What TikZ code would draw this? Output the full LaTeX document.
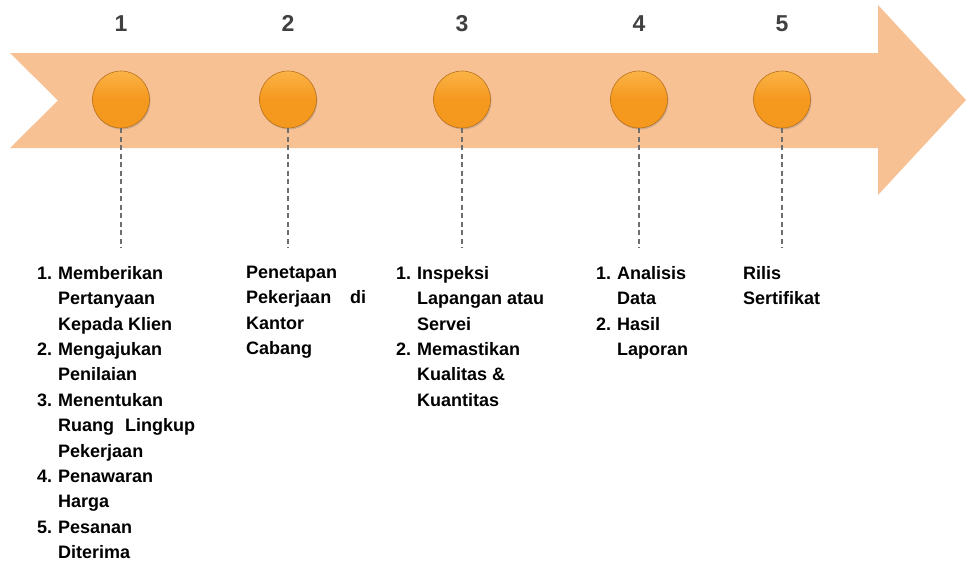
\documentclass[tikz,border=0pt]{standalone}
\usepackage{fontspec}
\setmainfont{Liberation Sans}
\usetikzlibrary{shadows}
\definecolor{band}{HTML}{F8C193}
\definecolor{ball}{HTML}{F5981E}
\definecolor{balltop}{HTML}{FBB446}
\definecolor{ballrim}{HTML}{B8701C}
\definecolor{numgray}{HTML}{404040}
\definecolor{dashgray}{HTML}{6E6E6E}
\tikzset{
  ballnode/.style={circle, minimum size=57pt, inner sep=0pt, draw=ballrim, line width=0.6pt,
    top color=balltop, bottom color=ball, middle color=ball,
    drop shadow={shadow xshift=1pt, shadow yshift=-1.5pt, opacity=0.35}},
  numlabel/.style={font=\fontsize{23}{25}\selectfont\bfseries, text=numgray, inner sep=0pt, anchor=base},
  stepline/.style={draw=dashgray, line width=1.1pt, dash pattern=on 5pt off 3.5pt},
  coltext/.style={anchor=north west, inner sep=0pt, align=left,
    font=\fontsize{18}{25.4}\selectfont\bfseries}
}
\newcommand{\nm}[1]{\makebox[21pt][l]{#1}}
\begin{document}
\begin{tikzpicture}[x=1pt,y=-1pt]
\useasboundingbox (0,0) rectangle (966,563);
% arrow band
\fill[band] (10,53) -- (878,53) -- (878,5) -- (966,100) -- (878,195) -- (878,148)
  -- (10,148) -- (58,100.5) -- cycle;
% balls
\foreach \i/\x in {1/121,2/288,3/462,4/639,5/782}{
  \node[ballnode] (c\i) at (\x,99.5) {};
  \node[numlabel] (n\i) at (\x,31.5) {\i};
  \coordinate (e\i) at (\x,248);
  \draw[stepline] (c\i.south) -- (e\i);
}
% texts
\node[coltext] (t1) at (37,266) {%
\nm{1.}Memberikan\\
\nm{}Pertanyaan\\
\nm{}Kepada Klien\\
\nm{2.}Mengajukan\\
\nm{}Penilaian\\
\nm{3.}Menentukan\\
\nm{}\makebox[137pt][s]{Ruang\hfill Lingkup}\\
\nm{}Pekerjaan\\
\nm{4.}Penawaran\\
\nm{}Harga\\
\nm{5.}Pesanan\\
\nm{}Diterima};
\node[coltext] (t2) at (246,266) {%
Penetapan\\
\makebox[120pt][s]{Pekerjaan\hfill di}\\
Kantor\\
Cabang};
\node[coltext] (t3) at (396,266) {%
\nm{1.}Inspeksi\\
\nm{}Lapangan atau\\
\nm{}Servei\\
\nm{2.}Memastikan\\
\nm{}Kualitas \&\\
\nm{}Kuantitas};
\node[coltext] (t4) at (596,266) {%
\nm{1.}Analisis\\
\nm{}Data\\
\nm{2.}Hasil\\
\nm{}Laporan};
\node[coltext] (t5) at (743,266) {%
Rilis\\
Sertifikat};
\end{tikzpicture}
\end{document}
